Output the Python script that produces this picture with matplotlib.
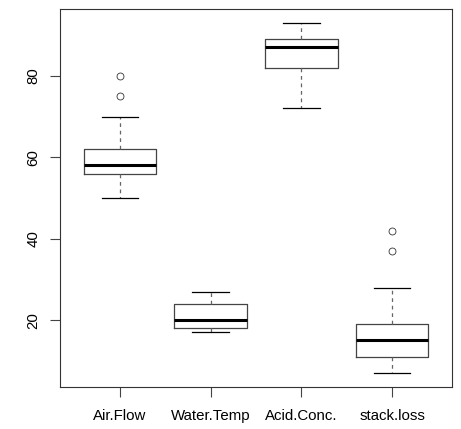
"""Boxplots of the stackloss plant data, one box per variable."""
import matplotlib
matplotlib.use('Agg')
import matplotlib.pyplot as plt
from matplotlib import cbook
import numpy as np

plt.rcParams['font.family'] = ['Liberation Sans', 'DejaVu Sans']

# stackloss observations (21 runs)
air_flow = [80, 80, 75, 62, 62, 62, 62, 62, 58, 58, 58, 58, 58, 58, 50, 50, 50, 50, 50, 56, 70]
water_temp = [27, 27, 25, 24, 22, 23, 24, 24, 23, 18, 18, 17, 18, 19, 18, 18, 19, 19, 20, 20, 20]
acid_conc = [89, 88, 90, 87, 87, 87, 93, 93, 87, 80, 89, 88, 82, 93, 89, 86, 72, 79, 80, 82, 91]
stack_loss = [42, 37, 37, 28, 18, 18, 19, 20, 15, 14, 14, 13, 11, 12, 8, 7, 8, 8, 9, 15, 15]
names = ['Air.Flow', 'Water.Temp', 'Acid.Conc.', 'stack.loss']
yticks = [20, 40, 60, 80]

fig = plt.figure(figsize=(4.61, 4.29), dpi=100)
ax = fig.add_axes([60 / 461, 42 / 429, 392 / 461, 378 / 429])

data = [air_flow, water_temp, acid_conc, stack_loss]
stats = cbook.boxplot_stats(data, whis=1.5)
for st in stats:
    # tied outliers sit on the same spot, draw each once
    st['fliers'] = np.unique(st['fliers'])

ax.bxp(
    stats, positions=[1, 2, 3, 4], widths=0.8,
    boxprops=dict(color='#444444', linewidth=0.9),
    whiskerprops=dict(color='#666666', linewidth=0.9, linestyle=(0, (3, 3))),
    capprops=dict(color='black', linewidth=0.9),
    medianprops=dict(color='black', linewidth=2.2),
    flierprops=dict(marker='o', markersize=5, markerfacecolor='none',
                    markeredgecolor='#333333', markeredgewidth=0.6),
)

lo = min(min(d) for d in data)
hi = max(max(d) for d in data)
pad = 0.04 * (hi - lo)
ax.set_ylim(lo - pad, hi + pad)
ax.set_xlim(0.5 - 0.16, 4.5 + 0.16)

ax.set_xticks([1, 2, 3, 4])
ax.set_xticklabels(names, fontsize=10.8)
ax.set_yticks(yticks)
ax.set_yticklabels([str(t) for t in yticks], fontsize=10.8, rotation=90, va='center')
ax.tick_params(axis='both', length=7, width=0.8, color='#444444')
ax.tick_params(axis='x', pad=9)
ax.tick_params(axis='y', pad=7)
for s in ax.spines.values():
    s.set_linewidth(0.8)
    s.set_color('#333333')

fig.savefig('out.png', dpi=100)
